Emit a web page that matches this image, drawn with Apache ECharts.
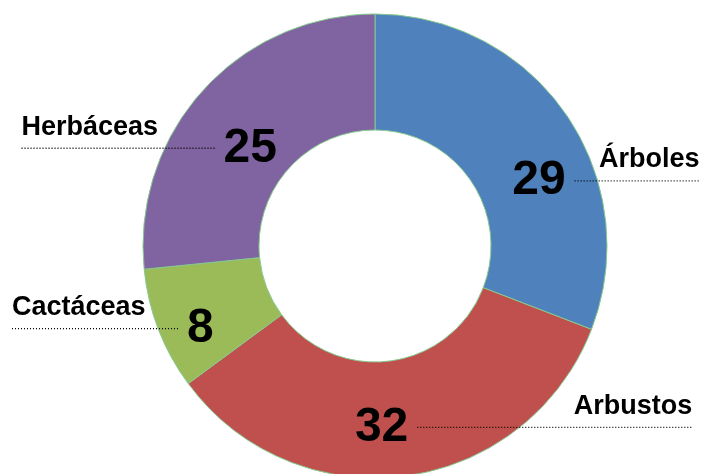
<!DOCTYPE html>
<html><head><meta charset="utf-8">
<script src="https://cdn.jsdelivr.net/npm/echarts@6/dist/echarts.min.js"></script>
<style>html,body{margin:0;padding:0;background:#fff}#c{width:703px;height:474px}</style>
</head><body><div id="c"></div>
<script>
// ---- data ----
const categories = ['Árboles', 'Arbustos', 'Cactáceas', 'Herbáceas'];
const values = [29, 32, 8, 25];

// ---- styling / layout (not data) ----
const palette = ['#4F81BD', '#C0504D', '#9BBB59', '#8064A2'];
const labelSide = ['right', 'right', 'left', 'left'];
const leaderWidths = [125, 275, 167, 194];
const labelShift = [[85, 22], [125, -7], [-97, 6], [-94.5, 8]];

const FONT = '"Liberation Sans", Arial, Helvetica, sans-serif';
const rich = {
  nL: { fontFamily: FONT, fontWeight: 'bold', fontSize: 27, color: '#000', align: 'left', lineHeight: 26 },
  nR: { fontFamily: FONT, fontWeight: 'bold', fontSize: 27, color: '#000', align: 'right', lineHeight: 26 },
  numL: { fontFamily: FONT, fontWeight: 'bold', fontSize: 48, color: '#000', lineHeight: 16, padding: [0, 0, 0, 8] },
  numR: { fontFamily: FONT, fontWeight: 'bold', fontSize: 48, color: '#000', lineHeight: 16, padding: [0, 9, 0, 0] }
};
leaderWidths.forEach(function (w, i) {
  rich['d' + i] = { width: w, height: 0, lineHeight: 16, borderColor: '#000', borderWidth: 1.3, borderType: [1, 2] };
});

const chart = echarts.init(document.getElementById('c'), null, { renderer: 'canvas' });
chart.setOption({
  backgroundColor: '#ffffff',
  animation: false,
  color: palette,
  series: [{
    type: 'pie',
    center: [375, 246],
    radius: [116, 232],
    startAngle: 90,
    clockwise: true,
    avoidLabelOverlap: false,
    silent: true,
    itemStyle: { borderColor: '#86C98F', borderWidth: 1 },
    labelLine: { show: false },
    label: {
      show: true,
      position: 'inside',
      rich: rich,
      formatter: function (p) {
        const i = p.dataIndex;
        if (labelSide[i] === 'left') {
          return '{nL|' + p.name + '}\n{d' + i + '|}{numL|' + p.value + '}';
        }
        return '{nR|' + p.name + '}\n{numR|' + p.value + '}{d' + i + '|}';
      }
    },
    labelLayout: function (p) {
      const s = labelShift[p.dataIndex];
      return { dx: s[0], dy: s[1] };
    },
    data: categories.map(function (c, i) { return { name: c, value: values[i] }; })
  }]
});
</script>
</body></html>
